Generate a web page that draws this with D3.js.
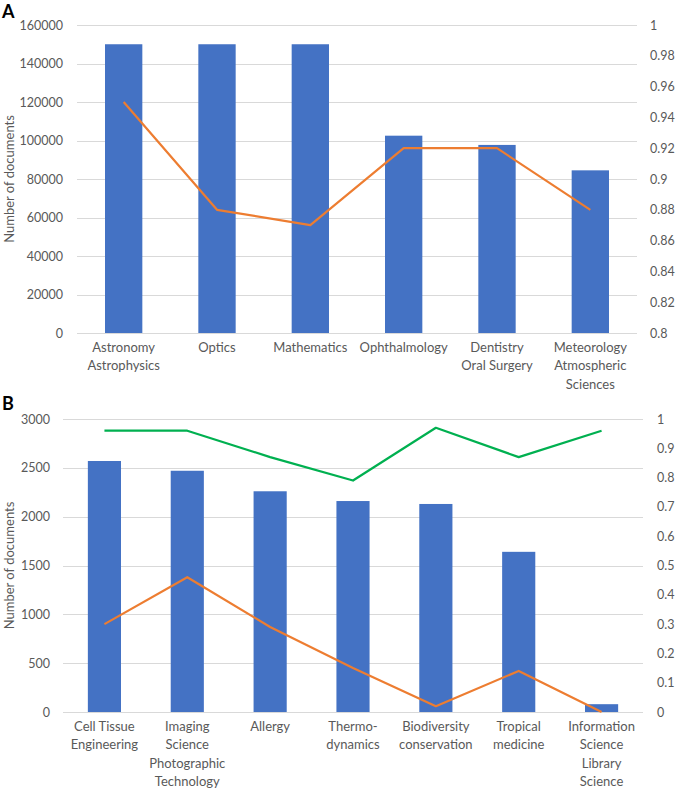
<!DOCTYPE html>
<html>
<head>
<meta charset="utf-8">
<script src="https://cdn.jsdelivr.net/npm/d3@7"></script>
<style>
  body { margin: 0; background: #fff; }
  svg text { font-family: Lato, "Open Sans", sans-serif; fill: #595959; }
</style>
</head>
<body>
<svg width="678" height="795"></svg>
<script>
var svg = d3.select('svg');

// panel A data
var catsA = [["Astronomy", "Astrophysics"], ["Optics"], ["Mathematics"], ["Ophthalmology"],
  ["Dentistry", "Oral Surgery"], ["Meteorology", "Atmospheric", "Sciences"]];
var docsA = [150000, 150000, 150000, 102500, 97700, 84500];
var orangeA = [0.95, 0.88, 0.87, 0.92, 0.92, 0.88];
var leftTicksA = [0, 20000, 40000, 60000, 80000, 100000, 120000, 140000, 160000];
var rightTicksA = [0.8, 0.82, 0.84, 0.86, 0.88, 0.9, 0.92, 0.94, 0.96, 0.98, 1];

// panel B data
var catsB = [["Cell Tissue", "Engineering"], ["Imaging", "Science", "Photographic", "Technology"], ["Allergy"],
  ["Thermo-", "dynamics"], ["Biodiversity", "conservation"], ["Tropical", "medicine"],
  ["Information", "Science", "Library", "Science"]];
var docsB = [2570, 2470, 2260, 2160, 2130, 1640, 80];
var greenB = [0.96, 0.96, 0.87, 0.79, 0.97, 0.87, 0.96];
var orangeB = [0.30, 0.46, 0.29, 0.15, 0.02, 0.14, 0];
var leftTicksB = [0, 500, 1000, 1500, 2000, 2500, 3000];
var rightTicksB = [0, 0.1, 0.2, 0.3, 0.4, 0.5, 0.6, 0.7, 0.8, 0.9, 1];

function drawPanel(p) {
  var g = svg.append("g");
  var band = d3.scaleBand().domain(d3.range(p.cats.length)).range([p.left, p.right]);
  var yl = d3.scaleLinear().domain(d3.extent(p.leftTicks)).range([p.bottom, p.top]);
  var yr = d3.scaleLinear().domain(d3.extent(p.rightTicks)).range([p.bottom, p.top]);

  // gridlines
  g.selectAll("line.grid").data(p.leftTicks).enter().append("line")
    .attr("x1", p.left).attr("x2", p.right)
    .attr("y1", function(d) { return Math.round(yl(d)) + 0.5 })
    .attr("y2", function(d) { return Math.round(yl(d)) + 0.5 })
    .attr("stroke", "#d9d9d9").attr("stroke-width", 1);

  // left axis labels
  g.selectAll("text.lt").data(p.leftTicks).enter().append("text")
    .attr("x", p.leftLabelX).attr("y", function(d) { return yl(d) + 4.5 })
    .attr("text-anchor", "end").attr("font-size", 12.5)
    .text(function(d) { return d });

  // right axis labels
  g.selectAll("text.rt").data(p.rightTicks).enter().append("text")
    .attr("x", p.rightLabelX).attr("y", function(d) { return yr(d) + 4.5 })
    .attr("font-size", 12.5)
    .text(function(d) { return d });

  // bars
  g.selectAll("rect.bar").data(p.docs).enter().append("rect")
    .attr("x", function(d, i) { return band(i) + band.bandwidth() * 0.3 })
    .attr("width", band.bandwidth() * 0.4)
    .attr("y", function(d) { return yl(d) })
    .attr("height", function(d) { return p.bottom - yl(d) })
    .attr("fill", "#4472c4");

  // lines
  var cx = function(d, i) { return band(i) + band.bandwidth() / 2 };
  p.lines.forEach(function(l) {
    var line = d3.line().x(cx).y(function(d) { return yr(d) });
    g.append("path").datum(l.values).attr("d", line)
      .attr("fill", "none").attr("stroke", l.color).attr("stroke-width", 2.2)
      .attr("stroke-linejoin", "round");
  });

  // category labels
  var cl = g.selectAll("text.cat").data(p.cats).enter().append("text")
    .attr("text-anchor", "middle").attr("font-size", 13)
    .attr("x", function(d, i) { return cx(d, i) })
    .attr("y", p.bottom + 18.5);
  cl.selectAll("tspan").data(function(d) { return d }).enter().append("tspan")
    .attr("x", function() { return d3.select(this.parentNode).attr("x") })
    .attr("dy", function(d, i) { return i ? 18.5 : 0 })
    .text(function(d) { return d });

  // y title
  g.append("text")
    .attr("transform", "translate(" + p.titleX + "," + (p.top + p.bottom) / 2 + ") rotate(-90)")
    .attr("text-anchor", "middle").attr("font-size", 13)
    .text("Number of documents");

  // panel letter
  svg.append("text").attr("x", 2).attr("y", p.letterY)
    .attr("font-family", "Liberation Sans, Arial, sans-serif")
    .attr("font-weight", "bold").attr("font-size", 18)
    .style("fill", "#000").text(p.letter);
}

drawPanel({
  cats: catsA, docs: docsA, leftTicks: leftTicksA, rightTicks: rightTicksA,
  lines: [{ values: orangeA, color: "#ed7d31" }],
  top: 25, bottom: 333, left: 77, right: 637,
  leftLabelX: 63, rightLabelX: 650, titleX: 14, letter: "A", letterY: 18
});

drawPanel({
  cats: catsB, docs: docsB, leftTicks: leftTicksB, rightTicks: rightTicksB,
  lines: [{ values: greenB, color: "#00b050" }, { values: orangeB, color: "#ed7d31" }],
  top: 419, bottom: 712, left: 63, right: 643,
  leftLabelX: 50, rightLabelX: 657, titleX: 14, letter: "B", letterY: 410
});
</script>
</body>
</html>
